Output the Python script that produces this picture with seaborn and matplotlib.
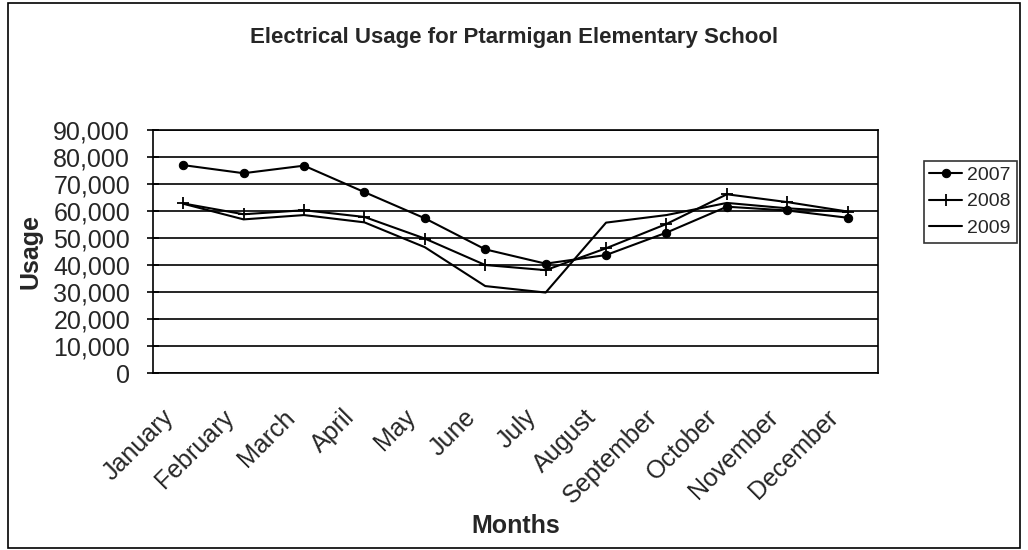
import numpy as np
import pandas as pd
import matplotlib.pyplot as plt
import matplotlib.ticker as mticker
import seaborn as sns
from matplotlib.patches import Rectangle

months = ["January", "February", "March", "April", "May", "June", "July",
          "August", "September", "October", "November", "December"]
usage_2007 = [77000, 74000, 76800, 67000, 57300, 45800, 40500, 43700, 52000, 61600, 60200, 57500]
usage_2008 = [62800, 58800, 60300, 57800, 49800, 40000, 38100, 46200, 55200, 66200, 63300, 59800]
usage_2009 = [62700, 56900, 58500, 55800, 46600, 32200, 29800, 55700, 58500, 63000, 61000, 59700]

df = pd.DataFrame({"Month": months * 3,
                   "Usage": usage_2007 + usage_2008 + usage_2009,
                   "Year": ["2007"] * 12 + ["2008"] * 12 + ["2009"] * 12})

sns.set_style("white")
plt.rcParams["font.family"] = ["Liberation Sans", "DejaVu Sans"]

fig = plt.figure(figsize=(10.28, 5.5), dpi=100)
ax = fig.add_axes([0.1488, 0.3218, 0.854 - 0.1488, 0.7636 - 0.3218])

styles = {"2007": dict(marker="o", markersize=6),
          "2008": dict(marker="+", markersize=9, markeredgewidth=1.3),
          "2009": dict(marker=None)}
for yr in ["2007", "2008", "2009"]:
    sub = df[df["Year"] == yr]
    sns.lineplot(x="Month", y="Usage", data=sub, ax=ax, color="black",
                 linewidth=1.5, label=yr, sort=False,
                 markeredgecolor="black", markerfacecolor="black", **styles[yr])

ax.set_ylim(0, 90000)
ax.set_xlim(-0.5, 11.5)
ax.yaxis.set_major_locator(mticker.MultipleLocator(10000))
ax.yaxis.set_major_formatter(mticker.StrMethodFormatter("{x:,.0f}"))
ax.grid(axis="y", color="black", linewidth=1.2)
ax.grid(axis="x", visible=False)
for s in ax.spines.values():
    s.set_color("black")
    s.set_linewidth(1.2)

# month labels end a bit left of each category centre, like the original
ax.set_xticks(np.arange(12) - 0.36)
ax.set_xticklabels(months, rotation=45, ha="right", rotation_mode="anchor", fontsize=18)
ax.set_xticks(np.arange(13) - 0.5, minor=True)
ax.tick_params(axis="x", which="major", length=0, pad=23)
ax.tick_params(axis="x", which="minor", length=6, width=1.2, color="black", direction="out")
ax.tick_params(axis="y", labelsize=18, length=8, width=1.2, color="black", direction="inout", pad=12.5)
ax.tick_params(left=True, bottom=True)

ax.set_xlabel("Months", fontsize=18, fontweight="bold", labelpad=4)
ax.set_ylabel("Usage", fontsize=18, fontweight="bold", labelpad=8)
fig.suptitle("Electrical Usage for Ptarmigan Elementary School", x=0.5, y=0.95,
             fontsize=16, fontweight="bold")

leg = ax.legend(loc="upper right", bbox_to_anchor=(0.989, 0.708), bbox_transform=fig.transFigure,
                frameon=True, fancybox=False, edgecolor="black", fontsize=14,
                handlelength=1.7, handletextpad=0.25, borderpad=0.3, labelspacing=0.45,
                borderaxespad=0)
leg.get_frame().set_linewidth(1.2)

fig.patches.append(Rectangle((0.008, 0.004), 0.984, 0.99, transform=fig.transFigure,
                             fill=False, edgecolor="black", linewidth=1.2))

fig.savefig("out.png", dpi=100)
